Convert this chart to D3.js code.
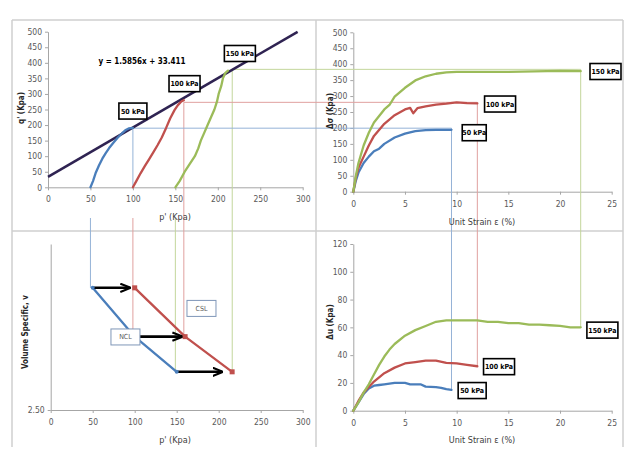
<!doctype html>
<html>
<head>
<meta charset="UTF-8">
<title>triaxial paths</title>
<script src="https://d3js.org/d3.v7.min.js"></script>
<style>
  body { margin:0; background:#fff; }
  text { font-family:"Liberation Sans Narrow","DejaVu Sans Condensed",sans-serif; }
</style>
</head>
<body>
<svg width="635" height="458"></svg>
<script>
// ---- tick labels ----
var pTicks = [0,50,100,150,200,250,300];
var qTicks = [0,50,100,150,200,250,300,350,400,450,500];
var strainTicks = [0,5,10,15,20,25];
var duTicks = [0,20,40,60,80,100,120];
var vTicks = [2.50];
var cellLabels = ["50 kPa","100 kPa","150 kPa"];

// ---- CSL fit in p'-q' ----
var cslSlope = 1.5856, cslIntercept = 33.411;
var cslP = [0, 294];

// ---- effective stress paths (p', q') ----
var path50  = [[50,0],[53,20],[56,45],[60,70],[64,92],[68,110],[72,126],[77,143],[82,159],[87,173],[91,183],[95,189],[100,191]];
var path100 = [[100,0],[104,20],[109,45],[114,68],[119,90],[124,112],[129,135],[134,160],[139,190],[144,222],[149,248],[153,264],[157,276],[160,280]];
var path150 = [[150,0],[155,20],[161,50],[167,75],[173,100],[177,125],[180,150],[184,175],[188,200],[192,225],[196,250],[199,275],[201,300],[204,325],[206,350],[209,368],[212,375]];

// ---- deviator stress vs strain ----
var dev50  = [[0,0],[0.25,35],[0.5,60],[1,90],[1.5,110],[2,127],[2.5,135],[3,150],[4,170],[5,182],[6,190],[7,193],[8,194],[9.5,194]];
var dev100 = [[0,0],[0.25,45],[0.5,75],[1,110],[1.5,145],[2,175],[3,213],[4,240],[5,258],[5.5,263],[5.8,246],[6.2,262],[7,268],[8,273],[9,276],[10,280],[11,278],[12,277]];
var dev150 = [[0,0],[0.25,50],[0.5,90],[1,145],[1.5,185],[2,217],[3,258],[3.5,272],[4,298],[5,326],[6,349],[7,362],[8,370],[9,374],[10,376],[15,376],[20,379],[22,378]];

// ---- pore pressure vs strain ----
var du50  = [[0,0],[0.5,6],[1,12],[1.5,16],[2,18],[2.5,18.5],[3,19],[4,20],[5,20],[5.5,19],[6.5,19],[7,17.3],[8,17],[8.5,16.5],[9,15.5],[9.5,15]];
var du100 = [[0,0],[0.5,7],[1,13],[1.5,17],[2,21],[3,27],[4,31],[5,34],[6,35],[7,36],[8,36],[9,34.5],[10,34],[11,33],[12,32]];
var du150 = [[0,0],[0.5,6],[1,13],[1.5,19],[2,26],[2.5,33],[3,39],[3.5,44],[4,48],[5,54],[6,58],[7,61],[8,64],[9,65],[10,65],[12,65],[13,64],[14,64],[15,63],[16,63],[17,62],[18,62],[19,61.5],[20,61],[21,60],[22,60]];

// ---- volume vs p' (NCL / CSL) ----
var nclPts = [[50,2.868],[100,2.721],[150,2.615]];
var cslPts = [[100,2.868],[160,2.721],[216,2.615]];
var arrowEndP = [94,156,204];

// failure values used for the guide lines
var qFail = [190, 273, 379];
var pFail = [100, 160, 217];
var strainEnd = [9.5, 12, 22];
var duEnd = [15, 32, 60];

var colors = ["#4a7ebb","#c0504d","#9bbb59"];
var guide = ["#95b3d7","#e0a09f","#c3d69b"];

var svg = d3.select("svg");

// frame
var frame = svg.append("g").attr("stroke","#cfcfcf").attr("stroke-width",1.5);
frame.append("line").attr("x1",12).attr("y1",20).attr("x2",623).attr("y2",20);
frame.append("line").attr("x1",12).attr("y1",231).attr("x2",623).attr("y2",231);
[12,316,623].forEach(function(x){
  frame.append("line").attr("x1",x).attr("y1",20).attr("x2",x).attr("y2",447);
});

// scales
var xTL = d3.scaleLinear().domain([0,300]).range([48,302.7]);
var yTL = d3.scaleLinear().domain([0,500]).range([187.3,31.7]);
var xTR = d3.scaleLinear().domain([0,25]).range([353.3,611.7]);
var yTR = d3.scaleLinear().domain([0,500]).range([191.7,32.3]);
var xBL = d3.scaleLinear().domain([0,300]).range([50.7,302.7]);
var yBL = d3.scaleLinear().domain([2.5,3.0]).range([410,244]);
var xBR = d3.scaleLinear().domain([0,25]).range([353.3,611.7]);
var yBR = d3.scaleLinear().domain([0,120]).range([410.7,244]);

function styleAxis(g){
  g.select(".domain").attr("stroke","#a6a6a6");
  g.selectAll(".tick line").attr("stroke","#a6a6a6");
  g.selectAll("text").attr("fill","#595959").style("font-size","8.5px");
}
function axes(x, y, xt, yt, yFmt){
  svg.append("g").attr("transform","translate(0,"+y.range()[0]+")")
    .call(d3.axisBottom(x).tickValues(xt).tickSize(3).tickPadding(6).tickSizeOuter(0))
    .call(styleAxis);
  svg.append("g").attr("transform","translate("+x.range()[0]+",0)")
    .call(d3.axisLeft(y).tickValues(yt).tickSize(3).tickPadding(3).tickSizeOuter(0).tickFormat(yFmt || d3.format("d")))
    .call(styleAxis);
}
axes(xTL, yTL, pTicks, qTicks);
axes(xTR, yTR, strainTicks, qTicks);
axes(xBL, yBL, pTicks, vTicks, d3.format(".2f"));
axes(xBR, yBR, strainTicks, duTicks);

// guide lines
var gl = svg.append("g").attr("stroke-width",1).attr("fill","none");
function seg(c,x1,y1,x2,y2){
  gl.append("line").attr("x1",x1).attr("y1",y1).attr("x2",x2).attr("y2",y2).attr("stroke",c);
}
var belowTL = 218;
// initial p' lines down to NCL
seg(guide[0], xTL(50), belowTL, xTL(50), yBL(nclPts[0][1]));
seg(guide[1], xTL(100), belowTL, xTL(100), yBL(nclPts[1][1]));
seg(guide[2], xTL(150), belowTL, xTL(150), yBL(nclPts[2][1]));
// failure lines
seg(guide[0], xTL(pFail[0]), yTL(qFail[0]), xTL(pFail[0]), yTL(0));
seg(guide[1], xTL(pFail[1]), yTL(qFail[1]), xTL(pFail[1]), yBL(cslPts[1][1]));
seg(guide[2], xTL(pFail[2]), yTL(qFail[2]), xTL(pFail[2]), yBL(cslPts[2][1]));
for (var i=0;i<3;i++){
  seg(guide[i], xTL(pFail[i]), yTL(qFail[i]), xTR(strainEnd[i]), yTL(qFail[i]));
  seg(guide[i], xTR(strainEnd[i]), yTL(qFail[i]), xTR(strainEnd[i]), yBR(duEnd[i]));
}

// CSL line p'-q'
svg.append("line")
  .attr("x1",xTL(cslP[0])).attr("y1",yTL(cslSlope*cslP[0]+cslIntercept))
  .attr("x2",xTL(cslP[1])).attr("y2",yTL(cslSlope*cslP[1]+cslIntercept))
  .attr("stroke","#2f2352").attr("stroke-width",2.5);

function curve(data, x, y, c){
  svg.append("path").datum(data)
    .attr("d", d3.line().x(function(d){return x(d[0]);}).y(function(d){return y(d[1]);}))
    .attr("fill","none").attr("stroke",c).attr("stroke-width",2.3)
    .attr("stroke-linejoin","round").attr("stroke-linecap","round");
}
[path50,path100,path150].forEach(function(d,i){ curve(d,xTL,yTL,colors[i]); });
[dev50,dev100,dev150].forEach(function(d,i){ curve(d,xTR,yTR,colors[i]); });
[du50,du100,du150].forEach(function(d,i){ curve(d,xBR,yBR,colors[i]); });
curve(nclPts, xBL, yBL, colors[0]);
curve(cslPts, xBL, yBL, colors[1]);

// arrows
svg.append("defs").append("marker").attr("id","ah")
  .attr("viewBox","0 0 10 10").attr("refX",9).attr("refY",5)
  .attr("markerWidth",4).attr("markerHeight",4).attr("orient","auto")
  .append("path").attr("d","M0,1 L10,5 L0,9").attr("fill","none").attr("stroke","#000").attr("stroke-width",2);
nclPts.forEach(function(d,i){
  svg.append("line")
    .attr("x1",xBL(d[0])).attr("y1",yBL(d[1]))
    .attr("x2",xBL(arrowEndP[i])).attr("y2",yBL(d[1]))
    .attr("stroke","#000").attr("stroke-width",2.6).attr("marker-end","url(#ah)");
});
svg.selectAll(".ncl").data(nclPts).enter().append("circle")
  .attr("cx",function(d){return xBL(d[0]);}).attr("cy",function(d){return yBL(d[1]);})
  .attr("r",2).attr("fill",colors[0]);
svg.selectAll(".csl").data(cslPts).enter().append("rect")
  .attr("x",function(d){return xBL(d[0])-2.5;}).attr("y",function(d){return yBL(d[1])-2.5;})
  .attr("width",5).attr("height",5).attr("fill",colors[1]);

// boxed labels
function box(txt, cx, cy, w, stroke, sw, bold){
  var h = 16;
  svg.append("rect").attr("x",cx-w/2).attr("y",cy-h/2).attr("width",w).attr("height",h)
    .attr("fill","#fff").attr("stroke",stroke).attr("stroke-width",sw);
  svg.append("text").attr("x",cx).attr("y",cy+2.5).attr("text-anchor","middle")
    .style("font-size","7px").style("font-weight",bold?"bold":"normal")
    .attr("fill",bold?"#000":"#595959").text(txt);
}
var lblTL = [[100,245],[160.8,333],[226,430]];
var lblTR = [[11.7,185],[14.2,275],[24.4,377]];
var lblBR = [[11.5,14.5],[14.1,31.7],[24.1,58]];
lblTL.forEach(function(d,i){ box(cellLabels[i], xTL(d[0]), yTL(d[1]), i?31:28, "#000", 1.6, true); });
lblTR.forEach(function(d,i){ box(cellLabels[i], xTR(d[0]), yTR(d[1]), i?31:24, "#000", 1.6, true); });
lblBR.forEach(function(d,i){ box(cellLabels[i], xBR(d[0]), yBR(d[1]), i?31:28, "#000", 1.6, true); });
box("CSL", xBL(179.5), yBL(2.806), 29, "#7f96b8", 1, false);
box("NCL", xBL(89), yBL(2.720), 29, "#7f96b8", 1, false);

// equation
svg.append("text").attr("x",xTL(110.7)).attr("y",yTL(405)+3).attr("text-anchor","middle")
  .style("font-size","8px").style("font-weight","bold").attr("fill","#000")
  .text("y = 1.5856x + 33.411");

// axis titles
function xTitle(t,x,y){
  svg.append("text").attr("x",x).attr("y",y).attr("text-anchor","middle")
    .style("font-size","9px").attr("fill","#404040").text(t);
}
function yTitle(t,x,y){
  svg.append("text").attr("transform","translate("+x+","+y+") rotate(-90)")
    .attr("text-anchor","middle").style("font-size","8px").style("font-weight","bold")
    .attr("fill","#262626").text(t);
}
xTitle("p' (Kpa)", 175, 220);
xTitle("Unit Strain \u03b5 (%)", 482, 225);
xTitle("p' (Kpa)", 175, 443);
xTitle("Unit Strain \u03b5 (%)", 482, 443);
yTitle("q' (Kpa)", 24, 108);
yTitle("\u0394\u03c3 (Kpa)", 333, 111);
yTitle("Volume Specific, v", 28, 332);
yTitle("\u0394u (Kpa)", 333, 322);
</script>
</body>
</html>
